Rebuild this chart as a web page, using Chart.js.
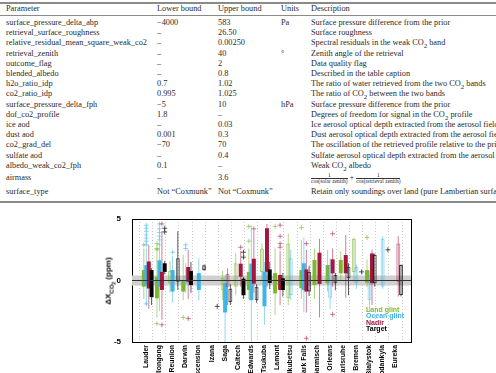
<!DOCTYPE html>
<html>
<head>
<meta charset="utf-8">
<script src="https://cdn.jsdelivr.net/npm/chart.js@4.4.0/dist/chart.umd.min.js"></script>
<style>
  html, body { margin: 0; padding: 0; width: 496px; height: 373px; overflow: hidden; background: #fff; }
  #tbl { position: absolute; left: 0; top: 0; width: 496px; height: 206px; overflow: hidden;
         font-family: "Liberation Serif", "Times New Roman", serif; font-size: 8.3px; color: #2a2a2a; }
  .rule { position: absolute; left: 0; width: 496px; background: #8a8a8a; }
  .cell { position: absolute; white-space: nowrap; line-height: 10px; }
  .frac { display: inline-block; vertical-align: middle; text-align: center; font-size: 5.5px; line-height: 5px; }
  .frac span { display: block; }
  .frac .den { border-top: 0.6px solid #333; }
  #c { position: absolute; left: 0; top: 205px; }
  #ytitle { position: absolute; left: 110px; top: 281px; transform: translate(-50%, -50%) rotate(-90deg);
            font: bold 8px "Liberation Sans", Arial, sans-serif; white-space: nowrap; }
  #ytitle sub { font-size: 6px; }
  #ytitle sub sub { font-size: 5px; }
  #legend { position: absolute; left: 366px; top: 307px; font: bold 7px "Liberation Sans", Arial, sans-serif; line-height: 6.4px; }
</style>
</head>
<body>
<div id="tbl"></div>
<canvas id="c" width="496" height="217"></canvas>
<div id="ytitle">&Delta;X<sub>CO<sub>2</sub></sub> (ppm)</div>
<div id="legend">
  <div style="color:#7cb82f">Land glint</div>
  <div style="color:#3fb4e8">Ocean glint</div>
  <div style="color:#a3173f">Nadir</div>
  <div style="color:#000">Target</div>
</div>
<script>
// Table contents
var params = ["surface_pressure_delta_abp", "retrieval_surface_roughness", "relative_residual_mean_square_weak_co2",
  "retrieval_zenith", "outcome_flag", "blended_albedo", "h2o_ratio_idp", "co2_ratio_idp", "surface_pressure_delta_fph",
  "dof_co2_profile", "ice aod", "dust aod", "co2_grad_del", "sulfate aod", "albedo_weak_co2_fph", "airmass", "surface_type"];
var lowers = ["\u22124000", "\u2013", "\u2013", "\u2013", "\u2013", "\u2013", "0.7", "0.995", "\u22125", "1.8", "\u2013",
  "0.001", "\u221270", "\u2013", "0.1", "\u2013", "Not \u201cCoxmunk\u201d"];
var uppers = ["583", "26.50", "0.00250", "40", "2", "0.8", "1.02", "1.025", "10", "\u2013", "0.03", "0.3", "70", "0.4",
  "\u2013", "3.6", "Not \u201cCoxmunk\u201d"];
var units = ["Pa", "", "", "\u00b0", "", "", "", "", "hPa", "", "", "", "", "", "", "", ""];
var descs = ["Surface pressure difference from the prior", "Surface roughness",
  "Spectral residuals in the weak CO<sub>2</sub> band", "Zenith angle of the retrieval", "Data quality flag",
  "Described in the table caption", "The ratio of water retrieved from the two CO<sub>2</sub> bands",
  "The ratio of CO<sub>2</sub> between the two bands", "Surface pressure difference from the prior",
  "Degrees of freedom for signal in the CO<sub>2</sub> profile",
  "Ice aerosol optical depth extracted from the aerosol field",
  "Dust aerosol optical depth extracted from the aerosol field",
  "The oscillation of the retrieved profile relative to the prior",
  "Sulfate aerosol optical depth extracted from the aerosol field", "Weak CO<sub>2</sub> albedo",
  '<span class="frac"><span>1</span><span class="den">cos(solar zenith)</span></span> + <span class="frac"><span>1</span><span class="den">cos(retrieval zenith)</span></span>',
  "Retain only soundings over land (pure Lambertian surface)"];
var colX = [6, 157, 218, 281, 311];

var tbl = document.getElementById("tbl");
function addCell(x, y, html) {
  var d = document.createElement("div");
  d.className = "cell";
  d.style.left = x + "px";
  d.style.top = (y - 5) + "px";
  d.innerHTML = html;
  tbl.appendChild(d);
}
function addRule(y, h) {
  var d = document.createElement("div");
  d.className = "rule";
  d.style.top = y + "px";
  d.style.height = h + "px";
  tbl.appendChild(d);
}
addRule(2, 1.5);
addRule(15, 0.8);
addRule(201, 1.5);
["Parameter", "Lower bound", "Upper bound", "Units", "Description"].forEach(function(h, j) { addCell(colX[j], 9, h); });
params.forEach(function(p, i) {
  var y = i < 15 ? 23 + i * 10.2 : (i === 15 ? 178 : 192);
  addCell(colX[0], y, p);
  addCell(colX[1], y, lowers[i]);
  addCell(colX[2], y, uppers[i]);
  addCell(colX[3], y, units[i]);
  addCell(colX[4], y, descs[i]);
});

// Chart data (ppm)
var sites = ["Lauder", "Wollongong", "Reunion", "Darwin", "Ascension", "Izana", "Saga", "Caltech", "Edwards", "Tsukuba",
  "Lamont", "Rikubetsu", "Park Falls", "Garmisch", "Orleans", "Karlsruhe", "Bremen", "Bialystok", "Sodankyla", "Eureka"];

// Land glint
var landQ1 = [-0.5, -1.45, -0.2, -0.9, null, null, -0.8, -0.5, -0.77, 0.7, -1.05, -1.45, -0.63, -0.37, -0.23, 0.58, 0.7, -0.18, null, null];
var landQ3 = [0.85, 0.3, 0.8, 0.0, null, null, 0.2, 1.4, 0.7, 2.6, 0.6, 3.0, 0.85, 1.67, 1.26, 1.67, 3.4, 0.85, null, null];
var landLo = [-1.5, -3.0, -1.0, -1.6, null, null, -1.6, -1.2, -1.5, 0.0, -2.8, -2.0, -1.5, -1.5, -0.9, 0.0, -0.1, -0.5, null, null];
var landHi = [2.6, 2.3, 1.6, 2.1, null, null, 0.8, 2.2, 2.6, 3.0, 2.6, 3.8, 3.3, 2.6, 2.5, 2.4, 3.5, 1.7, null, null];
var landFilled = [1, 1, 0, 1, null, null, 0, 0, 1, 0, 1, 0, 1, 1, 1, 1, 0, 1, null, null];
var landOut = [[0, 2.9], [1, 2.5], [1, 2.6], [1, 3.0], [1, -3.5], [3, -3.0], [8, 4.4], [8, 3.2], [10, 4.4], [12, 4.3], [17, 3.5]];

// Ocean glint
var oceanQ1 = [-0.4, -0.5, -0.9, -0.2, -0.77, null, -2.6, null, -1.6, -2.1, null, -1.2, -0.77, null, -1.4, null, -0.23, -1.6, -0.5, null];
var oceanQ3 = [1.25, 1.65, 0.85, 0.4, 0.6, null, -0.2, null, 1.37, 0.7, null, 1.8, 1.4, null, 1.26, null, 1.1, 0.45, 3.4, null];
var oceanLo = [-2.0, -2.5, -1.8, -1.0, -1.6, null, -5.0, null, -5.0, -3.6, null, -1.6, -2.6, null, -2.3, null, -0.7, -2.5, -0.7, null];
var oceanHi = [2.6, 2.7, 2.0, 1.4, 1.8, null, 0.4, null, 4.5, 1.5, null, 2.5, 3.5, null, 1.8, null, 1.3, 0.8, 3.6, null];
var oceanFilled = [1, 1, 1, 0, 1, null, 1, null, 1, 1, null, 0, 1, null, 0, null, 0, 0, 0, null];
var oceanOut = [[0, 2.9], [0, 3.2], [0, 3.45], [0, 3.7], [0, 4.0], [0, 4.25], [0, 4.5], [0, -1.9],
  [1, 2.9], [1, 3.3], [1, 3.6], [1, 3.9], [1, 4.2], [1, 4.6], [2, 2.3], [3, 2.6], [3, 2.9]];

// Nadir
var nadirQ1 = [-0.65, -0.77, null, -0.1, null, null, -0.5, 0.3, -0.26, 0.7, -0.77, null, -0.9, -0.28, 0.58, 0.58, null, -0.23, null, -0.1];
var nadirQ3 = [1.55, 0.7, null, 1.1, null, null, 0.55, 1.37, 1.77, 4.25, 0.45, null, 0.9, 2.26, 1.72, 2.07, null, 2.2, null, 3.0];
var nadirLo = [-2.3, -3.2, null, -1.5, null, null, -2.0, -0.5, -1.0, -0.5, -2.0, null, -2.6, -3.0, -0.5, -1.4, null, -2.0, null, -1.3];
var nadirHi = [2.9, 4.0, null, 2.5, null, null, 1.0, 2.4, 4.0, 4.6, 2.4, null, 2.5, 3.4, 2.6, 3.7, null, 2.5, null, 3.6];
var nadirFilled = [1, 1, null, 1, null, null, 0, 1, 1, 1, 1, null, 1, 1, 1, 1, null, 1, null, 0];
var nadirOut = [[1, 4.6], [1, -3.6], [3, -3.1], [7, 2.7], [8, 4.2], [10, 2.7], [10, 3.0], [10, 3.6], [10, 4.5],
  [12, 3.0], [12, -4.7], [14, 3.8], [14, -2.75]];

// Target
var targetQ1 = [-1.35, 0.7, -0.1, -0.37, 0.85, null, -1.75, -1.2, -1.6, -0.2, -0.77, null, -0.9, null, -0.23, 0.18, null, -0.23, null, -1.18];
var targetQ3 = [0.85, 1.4, 1.8, 0.77, 1.25, null, -0.67, 0.15, -0.5, 0.9, 0.18, null, 0.7, null, 0.45, 1.12, null, 2.07, null, 1.26];
var targetLo = [-2.0, 0.5, -0.77, -1.0, 0.8, null, -2.0, -1.5, -1.8, -0.7, -1.3, null, -1.25, null, -0.8, -1.2, null, -0.5, null, -1.3];
var targetHi = [1.0, 1.6, 4.0, 1.5, 1.3, null, -0.3, 0.3, -0.3, 1.5, 0.6, null, 1.2, null, 0.6, 1.4, null, 2.2, null, 1.3];
var targetFilled = [1, 1, 0, 1, 0, null, 0, 1, 0, 1, 1, null, 0, null, 0, 0, null, 0, null, 0];
var targetOut = [[1, 3.95], [1, 4.25], [5, -2.1], [7, 1.9], [7, 2.3], [16, 0.7], [18, 2.5]];

var bandLo = -0.4, bandHi = 0.4;
var xMin = -1.07, xMax = 20.18;

function boxPts(q1, q3, filled, off) {
  var pts = [];
  q1.forEach(function(v, i) {
    if (v !== null) pts.push({x: i + off, y: [v, q3[i]], filled: filled[i] === 1});
  });
  return pts;
}
function outPts(list, off) {
  return list.map(function(p) { return {x: p[0] + off, y: p[1]}; });
}

var series = [
  {q1: landQ1, q3: landQ3, lo: landLo, hi: landHi, filled: landFilled, out: landOut, off: -0.17, color: "#7cb82f", light: "rgba(124,184,47,0.6)", ord: 13},
  {q1: oceanQ1, q3: oceanQ3, lo: oceanLo, hi: oceanHi, filled: oceanFilled, out: oceanOut, off: 0.02, color: "#3fb4e8", light: "rgba(63,180,232,0.55)", ord: 12},
  {q1: nadirQ1, q3: nadirQ3, lo: nadirLo, hi: nadirHi, filled: nadirFilled, out: nadirOut, off: 0.21, color: "#a3173f", light: "rgba(163,23,63,0.55)", ord: 11},
  {q1: targetQ1, q3: targetQ3, lo: targetLo, hi: targetHi, filled: targetFilled, out: targetOut, off: 0.42, color: "#000000", light: "rgba(0,0,0,0.65)", ord: 10}
];

var datasets = [
  {type: "line", data: [{x: xMin, y: bandHi}, {x: xMax, y: bandHi}], borderWidth: 0, pointRadius: 0, fill: false, order: 40},
  {type: "line", data: [{x: xMin, y: bandLo}, {x: xMax, y: bandLo}], borderWidth: 0, pointRadius: 0,
   fill: "-1", backgroundColor: "#d0d0d0", order: 40}
];

series.forEach(function(s) {
  // whiskers
  datasets.push({
    type: "bar", data: boxPts(s.lo, s.hi, s.filled, s.off), grouped: false, barThickness: 1, inflateAmount: 0,
    backgroundColor: s.light, borderWidth: 0, order: s.ord + 10
  });
  // boxes
  datasets.push({
    type: "bar", data: boxPts(s.q1, s.q3, s.filled, s.off), grouped: false, barThickness: 4, inflateAmount: 0,
    backgroundColor: function(c) { return c.raw && c.raw.filled ? s.color : "rgba(255,255,255,0)"; },
    borderColor: s.light,
    borderWidth: function(c) { return c.raw && c.raw.filled ? 0 : 1; },
    borderSkipped: false, order: s.ord
  });
  // outliers
  datasets.push({
    type: "scatter", data: outPts(s.out, s.off), pointStyle: "cross", pointRadius: 2.5,
    borderColor: s.light, borderWidth: 1, order: s.ord - 5
  });
});

datasets.push({type: "line", data: [{x: xMin, y: 0}, {x: xMax, y: 0}], borderColor: "#333", borderWidth: 1,
  pointRadius: 0, fill: false, order: 0});

var tickFont = {family: "'Liberation Sans', Arial, sans-serif", size: 8, weight: "bold"};
var siteFont = {family: "'Liberation Sans', Arial, sans-serif", size: 6.9, weight: "bold"};

new Chart(document.getElementById("c").getContext("2d"), {
  type: "bar",
  data: {datasets: datasets},
  options: {
    responsive: false,
    animation: false,
    layout: {padding: {left: 114, right: 85, top: 14, bottom: 0}},
    plugins: {legend: {display: false}, tooltip: {enabled: false}},
    scales: {
      x: {
        type: "linear", min: xMin, max: xMax, offset: false,
        afterBuildTicks: function(s) { s.ticks = sites.map(function(_, i) { return {value: i}; }); },
        afterFit: function(s) { s.height = 80; },
        grid: {color: "#bdbdbd", lineWidth: 0.8, drawTicks: false},
        border: {display: true, color: "#000", width: 1, dash: [1, 2]},
        ticks: {
          autoSkip: false, minRotation: 90, maxRotation: 90, padding: 3, color: "#000", font: siteFont,
          callback: function(v) { return sites[v]; }
        }
      },
      x2: {
        type: "linear", position: "top", min: xMin, max: xMax,
        afterFit: function(s) { s.height = 0; },
        grid: {display: false}, ticks: {display: false}, border: {display: true, color: "#000", width: 1}
      },
      y: {
        min: -5, max: 5,
        afterFit: function(s) { s.width = 18; },
        grid: {display: false},
        border: {display: true, color: "#000", width: 1},
        ticks: {stepSize: 5, color: "#000", font: tickFont, padding: 3}
      },
      y2: {
        position: "right", min: -5, max: 5,
        afterFit: function(s) { s.width = 0; },
        grid: {display: false}, ticks: {display: false}, border: {display: true, color: "#000", width: 1}
      }
    }
  }
});
</script>
</body>
</html>
